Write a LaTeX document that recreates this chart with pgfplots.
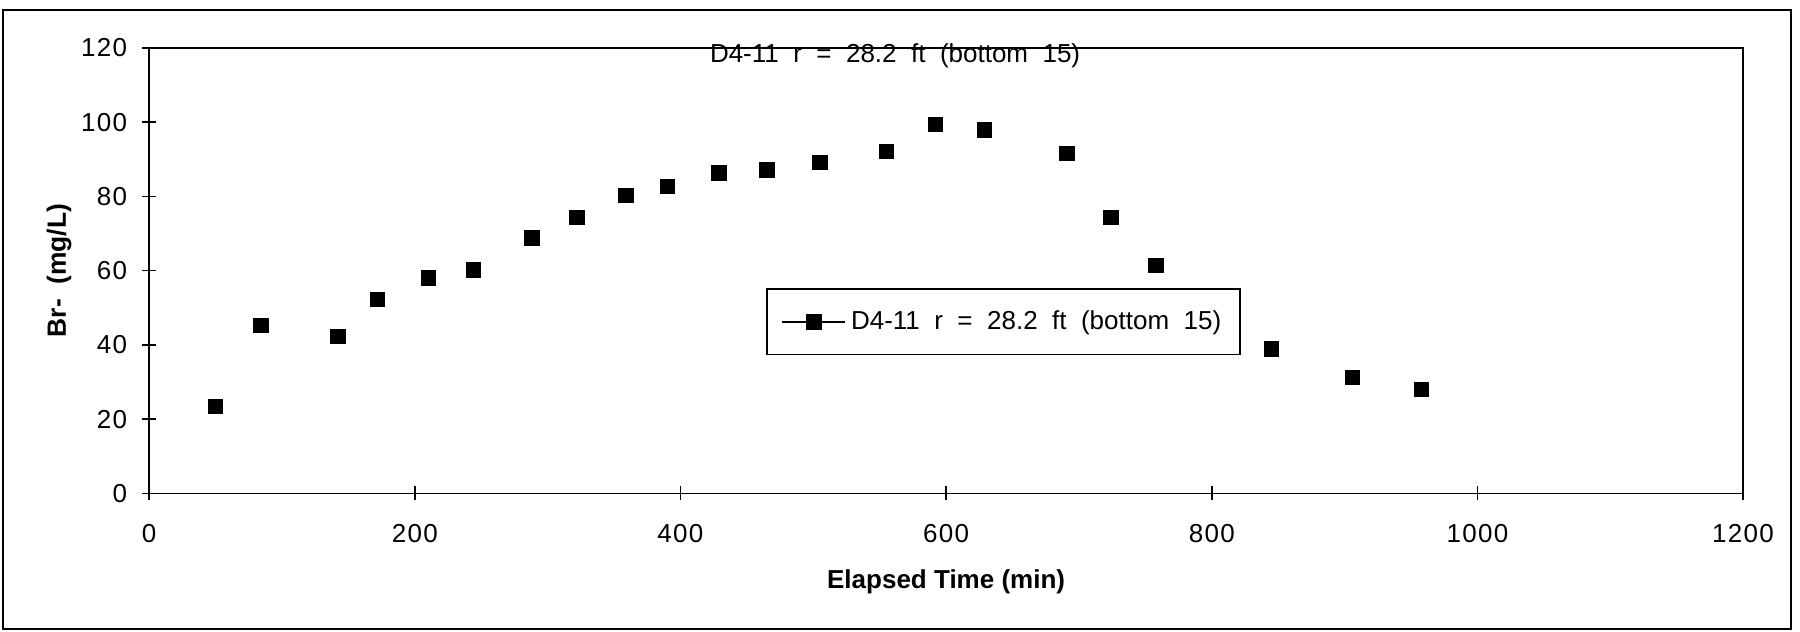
\documentclass[border=0pt]{standalone}
\usepackage{fontspec}
\setmainfont{Liberation Sans}
\newfontfamily\tickfont[LetterSpace=5]{Liberation Sans}
\usepackage{pgfplots}
\pgfplotsset{compat=1.18}
\pgfplotstableread{
t br
50 23.5
84 45.2
142 42.2
172 52.2
210 58.0
244 60.2
288 68.8
322 74.3
359 80.3
390 82.7
429 86.3
465 87.1
505 89.1
555 92.1
592 99.4
629 97.9
691 91.5
724 74.3
758 61.4
845 38.9
906 31.3
958 28.0
}\brdata
\begin{document}
\begin{tikzpicture}
\useasboundingbox (0pt,0pt) rectangle (900pt,316pt);
\draw[line width=1pt] (1.5pt,1.5pt) rectangle (895.5pt,311pt);
\begin{axis}[
  at={(74.6pt,69.3pt)}, anchor=south west,
  scale only axis, width=796.9pt, height=222.8pt,
  xmin=0, xmax=1200, ymin=0, ymax=120,
  xtick={0,200,...,1200}, ytick={0,20,...,120},
  xtick pos=bottom, ytick pos=left,
  tick align=center, major tick length=7pt,
  axis line style={line width=0.9pt},
  tick style={black, line width=0.8pt},
  /pgf/number format/assume math mode=true,
  /pgf/number format/1000 sep={},
  ticklabel style={font=\tickfont\fontsize{13}{15}\selectfont},
  xticklabel style={yshift=-8.5pt},
  yticklabel style={xshift=-4pt},
  xlabel={Elapsed Time (min)},
  ylabel={Br-\ \ (mg/L)},
  xlabel style={font=\bfseries\fontsize{13}{15}\selectfont, at={(axis description cs:0.5,-0.1975)}, anchor=center},
  ylabel style={font=\bfseries\fontsize{13.2}{15}\selectfont, at={(axis description cs:-0.0566,0.5)}, anchor=center},
  title={D4-11\ \ r\ \ =\ \ 28.2\ \ ft\ \ (bottom\ \ 15)},
  title style={font=\fontsize{13}{15}\selectfont, at={(axis description cs:0.468,0.955)}, anchor=center, inner sep=0pt},
  legend style={at={(axis description cs:0.3873,0.461)}, anchor=north west, draw=black, line width=0.8pt,
    font=\fontsize{13}{15}\selectfont, inner xsep=7pt, inner ysep=8.5pt, nodes={inner sep=2.5pt}},
]
\addplot[only marks, mark=square*, mark size=3.6pt, black,
  legend image code/.code={\draw[black, line width=0.8pt] (0pt,0pt) -- (31.6pt,0pt);
    \draw[black, mark=square*, mark size=3.6pt, only marks] plot coordinates {(15.8pt,0pt)};}]
  table[x=t, y=br] {\brdata};
\addlegendentry{D4-11\ \ r\ \ =\ \ 28.2\ \ ft\ \ (bottom\ \ 15)}
\end{axis}
\end{tikzpicture}
\end{document}
